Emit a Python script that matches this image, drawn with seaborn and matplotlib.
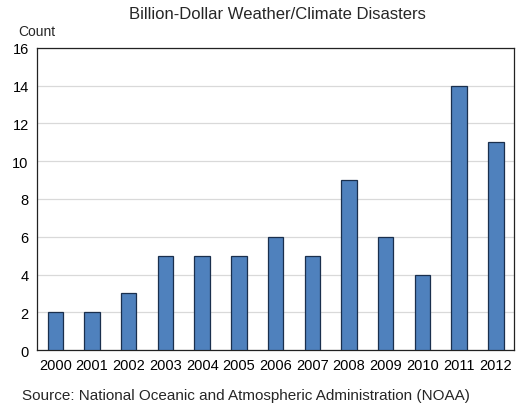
import matplotlib
matplotlib.use("Agg")
import matplotlib.pyplot as plt
import pandas as pd
import seaborn as sns

years = ["2000", "2001", "2002", "2003", "2004", "2005", "2006",
         "2007", "2008", "2009", "2010", "2011", "2012"]
counts = [2, 2, 3, 5, 5, 5, 6, 5, 9, 6, 4, 14, 11]
y_ticks = [0, 2, 4, 6, 8, 10, 12, 14, 16]

sns.set_style("white")
plt.rcParams["font.family"] = ["Liberation Sans", "DejaVu Sans"]

df = pd.DataFrame({"year": years, "count": counts})

fig = plt.figure(figsize=(5.29, 4.14), dpi=100)
ax = fig.add_axes([0.070, 0.152, 0.902, 0.730])

sns.barplot(data=df, x="year", y="count", color="#4F81BD", saturation=1,
            width=0.42, edgecolor="#1A2F4D", linewidth=0.9, ax=ax, zorder=3)

ax.set_ylim(0, 16)
ax.set_yticks(y_ticks)
ax.set_xlim(-0.5, len(years) - 0.5)
ax.yaxis.grid(True, color="#D9D9D9", linewidth=0.9, zorder=0)
ax.set_axisbelow(True)
for s in ax.spines.values():
    s.set_color("#222222")
    s.set_linewidth(0.9)

ax.set_xlabel("")
ax.set_ylabel("")
ax.tick_params(axis="x", labelsize=10.5, colors="black", length=0, pad=6)
ax.tick_params(axis="y", labelsize=10.5, colors="black", length=3,
               direction="in", width=0.8, pad=6)

fig.text(0.524, 0.966, "Billion-Dollar Weather/Climate Disasters",
         ha="center", va="center", fontsize=12)
fig.text(0.035, 0.922, "Count", ha="left", va="center", fontsize=10)
fig.text(0.042, 0.043, "Source: National Oceanic and Atmospheric Administration (NOAA)",
         ha="left", va="center", fontsize=11)

fig.savefig("out.png", dpi=100)
